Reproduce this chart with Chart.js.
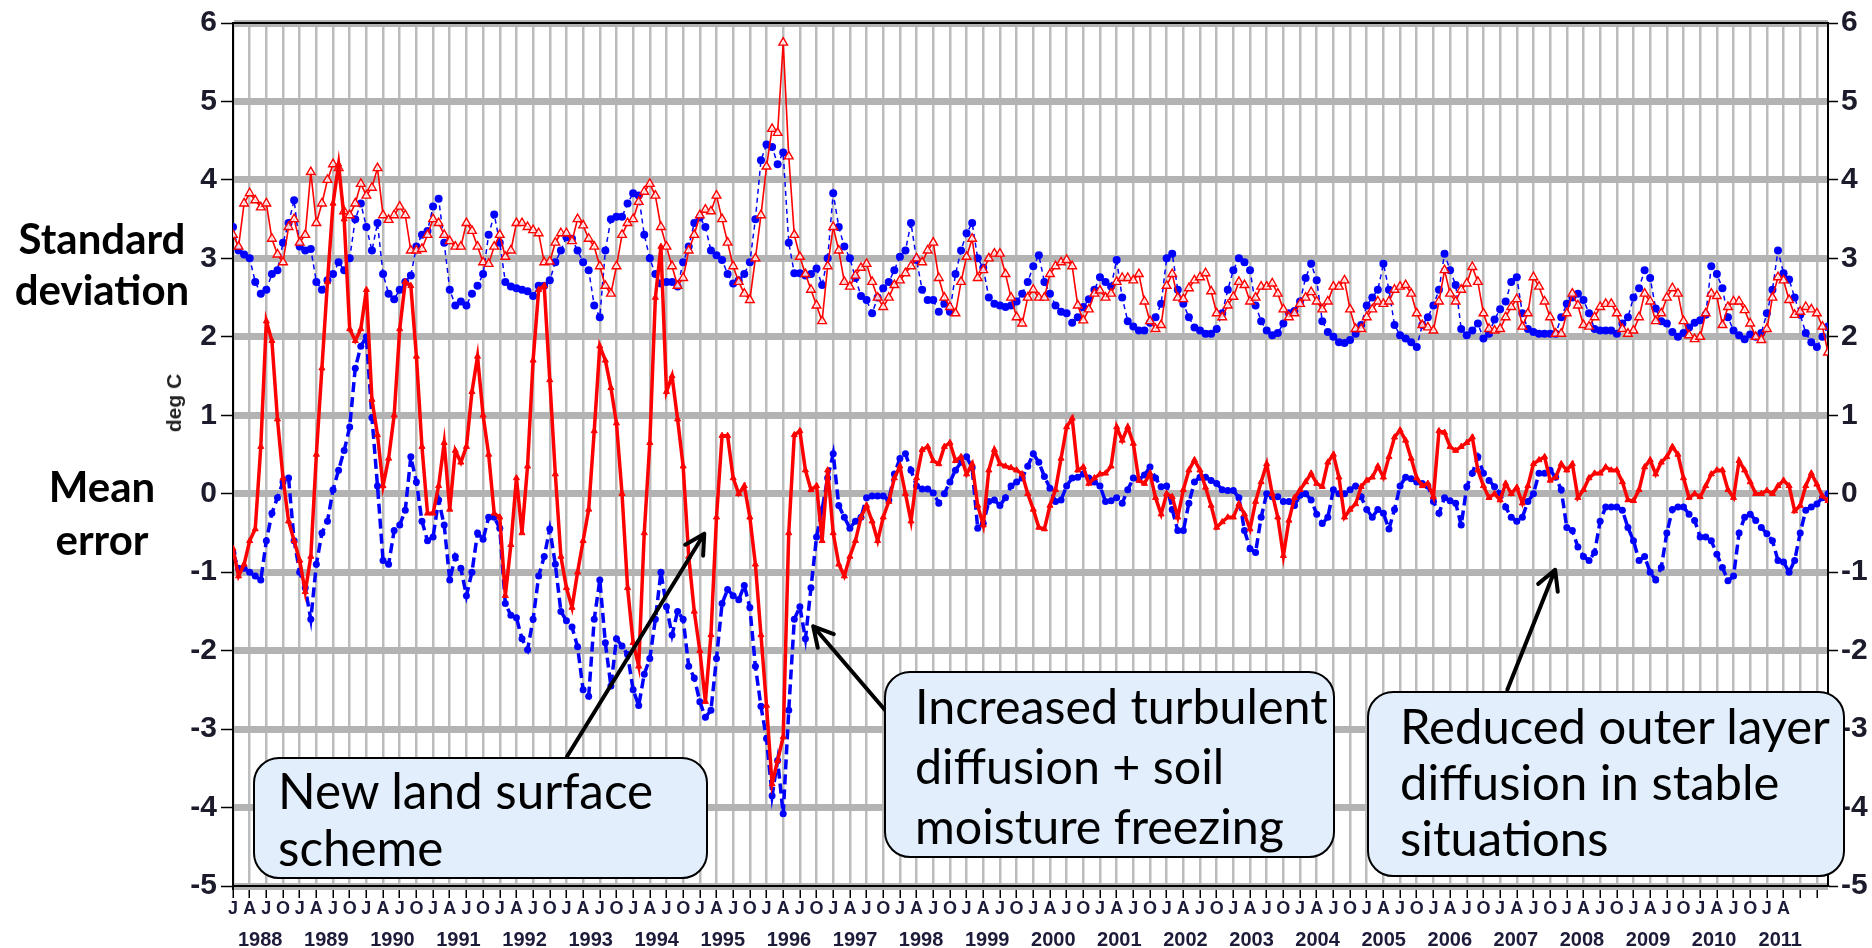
<!DOCTYPE html>
<html>
<head>
<meta charset="utf-8">
<script src="https://cdn.jsdelivr.net/npm/chart.js@4.4.1/dist/chart.umd.min.js"></script>
<style>
  html, body { margin: 0; padding: 0; background: #fff; }
  #wrap { position: relative; width: 1872px; height: 948px; overflow: hidden; }
  #chart { position: absolute; left: 0; top: 0; }
  .side { position: absolute; left: 0; width: 204px; text-align: center; font-family: Lato, sans-serif; font-weight: 700; color: #000; }
  .unit { position: absolute; left: 174px; top: 403px; transform: translate(-50%, -50%) rotate(-90deg);
          font-family: 'Liberation Sans', Arial, sans-serif; font-weight: 700; font-size: 21px; color: #222; white-space: nowrap; }
  .note { position: absolute; box-sizing: border-box; background: #e2eefb; border: 2px solid #000; border-radius: 26px;
          font-family: Lato, sans-serif; color: #000; white-space: nowrap; }
</style>
</head>
<body>
<div id="wrap">
  <canvas id="chart" width="1872" height="948"></canvas>
  <div class="side" style="top:213px; line-height:51px;" data-fit="167">Standard<br>deviation</div>
  <div class="side" style="top:460px; line-height:53px;">Mean<br>error</div>
  <div class="unit">deg C</div>
  <div class="note" style="left:253px; top:757px; width:455px; height:122px; padding:3px 0 0 23px; line-height:57px;" data-fit="376">New land surface<br>scheme</div>
  <div class="note" style="left:884px; top:671px; width:451px; height:187px; padding:2px 0 0 29px; line-height:60px;" data-fit="413">Increased turbulent<br>diffusion + soil<br>moisture freezing</div>
  <div class="note" style="left:1367px; top:691px; width:478px; height:186px; padding:4px 0 0 31px; line-height:56px;" data-fit="431">Reduced outer layer<br>diffusion in stable<br>situations</div>
</div>
<script>
// x axis runs month by month, Jan 1988 .. Dec 2011
var years = [1988, 1989, 1990, 1991, 1992, 1993, 1994, 1995, 1996, 1997, 1998, 1999,
             2000, 2001, 2002, 2003, 2004, 2005, 2006, 2007, 2008, 2009, 2010, 2011];
var tickLetters = ['J', 'A', 'J', 'O'];
var lastLabelledMonth = 279; // Apr 2011 is the last lettered tick
// the year row is evenly spread between these two months in the original
var firstYearLabelAt = 4.9, lastYearLabelAt = 278.4;

// standard deviation, blue (dots, dashed)
var sdBlue = [
  3.4, 3.1, 3.05, 3.0, 2.7, 2.55, 2.6, 2.8, 2.85, 3.2, 3.45, 3.74,
  3.15, 3.1, 3.12, 2.7, 2.6, 2.72, 2.8, 2.95, 2.85, 3.0, 3.5, 3.7,
  3.4, 3.1, 3.45, 2.8, 2.55, 2.48, 2.6, 2.7, 2.78, 3.15, 3.3, 3.35,
  3.66, 3.76, 3.2, 2.6, 2.4, 2.45, 2.4, 2.55, 2.65, 2.8, 3.3, 3.56,
  3.2, 2.7, 2.64, 2.62, 2.6, 2.58, 2.52, 2.65, 2.65, 2.72, 2.95, 3.1,
  3.27, 3.25, 3.1, 2.95, 2.85, 2.4, 2.25, 3.1, 3.5, 3.53, 3.53, 3.7,
  3.83, 3.8, 3.3, 3.0, 2.8, 2.68, 2.7, 2.7, 2.64, 2.95, 3.15, 3.45,
  3.52, 3.4, 3.1, 3.04, 2.98, 2.8, 2.68, 2.72, 2.8, 2.95, 3.5, 4.25,
  4.45, 4.42, 4.2, 4.35, 3.2, 2.81, 2.81, 2.78, 2.8, 2.87, 2.66, 3.0,
  3.83, 3.4, 3.15, 3.0, 2.75, 2.52, 2.47, 2.3, 2.5, 2.62, 2.7, 2.85,
  3.02, 3.1, 3.45, 2.98, 2.6, 2.47, 2.47, 2.32, 2.42, 2.32, 2.8, 3.1,
  3.32, 3.45, 3.0, 2.88, 2.5, 2.42, 2.4, 2.38, 2.4, 2.45, 2.55, 2.7,
  2.9, 3.04, 2.7, 2.55, 2.4, 2.32, 2.3, 2.18, 2.25, 2.38, 2.48, 2.6,
  2.76, 2.7, 2.64, 2.98, 2.5, 2.2, 2.13, 2.08, 2.08, 2.18, 2.25, 2.42,
  3.0, 3.06, 2.6, 2.42, 2.25, 2.12, 2.08, 2.04, 2.04, 2.1, 2.3, 2.6,
  2.85, 3.0, 2.95, 2.85, 2.4, 2.2, 2.08, 2.02, 2.05, 2.17, 2.3, 2.33,
  2.45, 2.75, 2.93, 2.72, 2.2, 2.06, 2.0, 1.93, 1.92, 1.96, 2.04, 2.15,
  2.4, 2.5, 2.6, 2.93, 2.6, 2.15, 2.02, 1.98, 1.93, 1.87, 2.15, 2.25,
  2.4, 2.6, 3.06, 2.85, 2.66, 2.1, 2.02, 2.08, 2.17, 1.98, 2.04, 2.22,
  2.35, 2.45, 2.7, 2.76, 2.3, 2.1, 2.06, 2.04, 2.04, 2.04, 2.04, 2.25,
  2.42, 2.5, 2.55, 2.47, 2.3, 2.1, 2.08, 2.08, 2.08, 2.04, 2.17, 2.25,
  2.5, 2.62, 2.85, 2.75, 2.36, 2.2, 2.17, 2.06, 2.0, 2.05, 2.12, 2.18,
  2.21, 2.28, 2.9, 2.8, 2.62, 2.25, 2.08, 2.02, 1.97, 2.03, 2.0, 2.05,
  2.3, 2.6, 3.1, 2.81, 2.73, 2.5, 2.28, 2.05, 1.93, 1.87, 2.0, 2.13
];

// standard deviation, red (open triangles, thin line)
var sdRed = [
  3.3, 3.15, 3.7, 3.83, 3.74, 3.65, 3.7, 3.25, 3.05, 2.95, 3.4, 3.5,
  3.2, 3.3, 4.1, 3.45, 3.7, 4.0, 4.2, 4.15, 3.6, 3.55, 3.7, 3.95,
  3.8, 3.9, 4.15, 3.55, 3.49, 3.55, 3.66, 3.55, 3.1, 3.1, 3.12, 3.3,
  3.5, 3.45, 3.3, 3.22, 3.15, 3.15, 3.45, 3.35, 3.15, 2.95, 2.93, 3.15,
  3.3, 3.02, 3.1, 3.45, 3.45, 3.4, 3.36, 3.32, 2.95, 2.96, 3.2, 3.32,
  3.32, 3.22, 3.5, 3.42, 3.25, 3.15, 2.9, 2.65, 2.55, 2.9, 3.3, 3.45,
  3.5, 3.72, 3.85, 3.95, 3.8, 3.4, 3.15, 2.9, 2.65, 2.75, 3.1, 3.3,
  3.55, 3.62, 3.6, 3.8, 3.5, 3.2, 2.9, 2.7, 2.55, 2.47, 3.0, 3.55,
  4.17, 4.65, 4.6, 5.75, 4.3, 3.3, 3.02, 2.8, 2.6, 2.4, 2.2, 2.9,
  3.4, 3.1, 2.7, 2.64, 2.78, 2.88, 2.93, 2.7, 2.5, 2.38, 2.5, 2.66,
  2.72, 2.81, 2.9, 3.0, 2.95, 3.1, 3.2, 2.75, 2.5, 2.38, 2.3, 2.7,
  3.02, 3.25, 2.75, 2.85, 3.0, 3.06, 3.06, 2.8, 2.5, 2.25, 2.17, 2.5,
  2.6, 2.5, 2.5, 2.8, 2.9, 2.95, 2.98, 2.9, 2.4, 2.21, 2.35, 2.55,
  2.59, 2.5, 2.55, 2.7, 2.75, 2.75, 2.72, 2.8, 2.45, 2.2, 2.1, 2.15,
  2.65, 2.8, 2.5, 2.48, 2.62, 2.72, 2.76, 2.81, 2.58, 2.3, 2.25, 2.4,
  2.51, 2.7, 2.66, 2.45, 2.5, 2.64, 2.64, 2.68, 2.55, 2.35, 2.25, 2.3,
  2.42, 2.5, 2.57, 2.45, 2.35, 2.45, 2.64, 2.64, 2.72, 2.35, 2.1, 2.1,
  2.25, 2.35, 2.45, 2.42, 2.45, 2.6, 2.64, 2.66, 2.55, 2.3, 2.15, 2.12,
  2.08, 2.45, 2.85, 2.55, 2.45, 2.6, 2.68, 2.89, 2.7, 2.3, 2.1, 2.08,
  2.1, 2.25, 2.38, 2.48, 2.13, 2.3, 2.76, 2.64, 2.45, 2.25, 2.04, 2.04,
  2.3, 2.55, 2.4, 2.15, 2.13, 2.25, 2.38, 2.42, 2.42, 2.3, 2.1, 2.04,
  2.08, 2.25, 2.55, 2.45, 2.2, 2.3, 2.5, 2.62, 2.55, 2.2, 2.02, 1.97,
  2.0, 2.3, 2.55, 2.52, 2.15, 2.38, 2.45, 2.45, 2.34, 2.17, 2.0, 1.96,
  2.1, 2.5, 2.76, 2.72, 2.47, 2.28, 2.32, 2.38, 2.35, 2.3, 2.13, 1.8
];

// mean error, blue (dots, thick dashed)
var meBlue = [
  -0.76, -0.95, -0.95, -1.0, -1.05, -1.1, -0.6, -0.25, -0.05, 0.15, 0.2, -0.6,
  -1.0, -1.2, -1.6, -0.9, -0.5, -0.35, 0.05, 0.3, 0.55, 0.85, 1.6, 1.88,
  2.0, 0.97, 0.1, -0.85, -0.9, -0.47, -0.4, -0.21, 0.47, 0.15, -0.35, -0.6,
  -0.55, -0.08, -0.4, -1.1, -0.8, -0.95, -1.3, -1.0, -0.5, -0.58, -0.3, -0.3,
  -0.44, -1.4, -1.55, -1.58, -1.85, -1.99, -1.6, -1.05, -0.8, -0.45, -0.9, -1.5,
  -1.62, -1.7, -1.95, -2.5, -2.58, -1.6, -1.1, -1.9, -2.45, -1.85, -1.94, -2.05,
  -2.5, -2.7, -2.3, -2.1, -1.6, -1.0, -1.44, -1.8, -1.5, -1.6, -2.2, -2.35,
  -2.65, -2.85, -2.76, -2.1, -1.4, -1.22, -1.3, -1.35, -1.17, -1.45, -2.2, -2.71,
  -3.12, -3.85, -3.4, -4.08, -2.76, -1.6, -1.44, -1.85, -1.2, -0.55, -0.2, 0.2,
  0.51, -0.15, -0.3, -0.44, -0.35, -0.3, -0.05, -0.03, -0.03, -0.03, -0.08, 0.25,
  0.45, 0.51, 0.3, 0.1, 0.06, 0.06, 0.01, -0.12, 0.0, 0.15, 0.3, 0.4,
  0.47, 0.33, -0.44, -0.38, -0.1, -0.08, -0.15, -0.05, 0.1, 0.15, 0.2, 0.35,
  0.51, 0.4, 0.22, 0.07, -0.1, -0.08, 0.1, 0.2, 0.21, 0.25, 0.2, 0.15,
  0.1, -0.1, -0.09, -0.05, -0.12, 0.05, 0.2, 0.18, 0.24, 0.34, 0.2, 0.09,
  0.1, -0.2, -0.47, -0.47, -0.12, 0.15, 0.21, 0.21, 0.17, 0.13, 0.05, 0.04,
  0.04, -0.05, -0.47, -0.7, -0.75, -0.3, 0.0, -0.04, -0.04, -0.1, -0.1, -0.15,
  -0.02, 0.0, -0.08, -0.26, -0.38, -0.3, 0.05, 0.0, 0.0, 0.05, 0.1, -0.04,
  -0.2, -0.3, -0.2, -0.25, -0.45, -0.2, 0.1, 0.21, 0.19, 0.15, 0.13, 0.1,
  -0.1, -0.25, -0.05, -0.09, -0.12, -0.4, 0.09, 0.26, 0.47, 0.26, 0.17, 0.09,
  0.0, -0.17, -0.3, -0.35, -0.3, -0.1, 0.0, 0.26, 0.26, 0.3, 0.21, 0.05,
  -0.43, -0.47, -0.68, -0.8, -0.85, -0.75, -0.35, -0.17, -0.17, -0.17, -0.21, -0.43,
  -0.6, -0.85, -0.8, -1.0, -1.1, -0.94, -0.5, -0.2, -0.17, -0.17, -0.26, -0.34,
  -0.55, -0.55, -0.6, -0.77, -0.94, -1.11, -1.05, -0.5, -0.3, -0.26, -0.34, -0.43,
  -0.51, -0.6, -0.85, -0.87, -1.0, -0.85, -0.5, -0.21, -0.17, -0.13, -0.05, 0.0
];

// mean error, red (small triangles, thick line)
var meRed = [
  -0.7, -1.05, -0.9, -0.6, -0.45, 0.6, 2.2, 1.95, 0.95, 0.2, -0.35, -0.6,
  -0.85, -1.25, -0.8, 0.5, 1.6, 2.7, 3.7, 4.2, 3.5, 2.1, 1.95, 2.1,
  2.6, 1.2, 0.75, 0.1, 0.45, 1.0, 2.1, 2.7, 2.65, 1.75, 0.6, -0.25,
  -0.25, 0.1, 0.65, -0.2, 0.55, 0.4, 0.6, 1.3, 1.75, 1.0, 0.5, -0.25,
  -0.3, -1.3, -0.65, 0.2, -0.5, 0.35, 1.7, 2.6, 2.65, 1.45, 0.25, -0.8,
  -1.2, -1.45, -1.0, -0.6, -0.2, 0.8, 1.88, 1.7, 1.35, 0.9, 0.0, -1.2,
  -1.9, -2.2, -0.5, 0.65, 2.5, 3.15, 1.3, 1.5, 0.95, 0.35, -0.8, -1.5,
  -2.0, -2.65, -1.8, -0.3, 0.74, 0.74, 0.2, 0.0, 0.1, -0.3, -0.9, -1.8,
  -2.7, -3.7, -3.4, -3.1, -0.5, 0.75, 0.8, 0.3, 0.05, 0.1, -0.6, 0.3,
  -0.5, -0.9, -1.05, -0.8, -0.6, -0.3, -0.15, -0.35, -0.6, -0.3, -0.1, 0.2,
  0.35, 0.0, -0.35, 0.2, 0.56, 0.6, 0.42, 0.38, 0.6, 0.65, 0.42, 0.47,
  0.25, 0.38, -0.15, -0.4, 0.3, 0.56, 0.38, 0.35, 0.33, 0.3, 0.25, 0.0,
  -0.2, -0.43, -0.45, -0.15, 0.05, 0.45, 0.85, 0.96, 0.3, 0.34, 0.13, 0.2,
  0.25, 0.26, 0.35, 0.85, 0.68, 0.85, 0.64, 0.17, 0.13, 0.26, -0.05, -0.26,
  0.0, -0.04, -0.3, 0.05, 0.3, 0.43, 0.3, 0.08, -0.15, -0.43, -0.36, -0.3,
  -0.3, -0.13, -0.26, -0.45, -0.1, 0.15, 0.38, 0.0, -0.3, -0.79, -0.34, -0.05,
  0.05, 0.15, 0.26, 0.13, 0.09, 0.4, 0.5, 0.21, -0.3, -0.2, -0.13, 0.09,
  0.17, 0.21, 0.35, 0.21, 0.47, 0.72, 0.81, 0.68, 0.45, 0.2, 0.1, 0.13,
  -0.04, 0.8, 0.78, 0.6, 0.55, 0.6, 0.65, 0.72, 0.3, 0.1, -0.05, 0.0,
  -0.08, 0.13, 0.0, 0.08, -0.12, 0.1, 0.38, 0.43, 0.47, 0.17, 0.21, 0.38,
  0.3, 0.38, -0.05, 0.05, 0.2, 0.26, 0.26, 0.34, 0.3, 0.3, 0.15, -0.08,
  -0.09, 0.05, 0.34, 0.43, 0.25, 0.4, 0.47, 0.6, 0.5, 0.2, -0.05, 0.0,
  -0.04, 0.1, 0.25, 0.3, 0.3, 0.05, -0.05, 0.42, 0.3, 0.15, 0.0, 0.0,
  0.04, 0.0, 0.1, 0.17, 0.1, -0.22, -0.15, 0.1, 0.26, 0.12, -0.03, -0.09
];

// callout arrows, [month, deg C] of tail and tip
var arrowFrom = [[60.1, -3.35], [118.2, -2.83], [229.3, -2.5]];
var arrowTo = [[84.8, -0.51], [104.4, -1.69], [237.9, -0.97]];

// fit the overlay fonts to the widths in the original slide
var measure = document.createElement('canvas').getContext('2d');
document.querySelectorAll('[data-fit]').forEach(function(el) {
  var first = el.innerHTML.split('<br>')[0];
  var weight = el.classList.contains('side') ? '700' : '400';
  measure.font = weight + ' 100px Lato';
  var size = 100 * Number(el.dataset.fit) / measure.measureText(first).width;
  el.style.fontSize = size.toFixed(1) + 'px';
  if (el.classList.contains('side')) {
    document.querySelectorAll('.side').forEach(function(s) { s.style.fontSize = size.toFixed(1) + 'px'; });
  }
});

function toPoints(values) {
  return values.map(function(v, i) { return {x: i, y: v}; });
}

var quarterTicks = [];
years.forEach(function(y, k) {
  for (var q = 0; q < 4; q++) quarterTicks.push(k * 12 + q * 3);
});
var yearCentres = years.map(function(y, k) {
  return firstYearLabelAt + k * (lastYearLabelAt - firstYearLabelAt) / (years.length - 1);
});

var lastMonth = sdBlue.length - 1;
var tickFont = {size: 30, weight: 'bold'};

function drawArrow(ctx, x1, y1, x2, y2) {
  var ang = Math.atan2(y2 - y1, x2 - x1);
  var len = 22, spread = 0.5;
  ctx.beginPath();
  ctx.moveTo(x1, y1);
  ctx.lineTo(x2, y2);
  ctx.moveTo(x2 - len * Math.cos(ang - spread), y2 - len * Math.sin(ang - spread));
  ctx.lineTo(x2, y2);
  ctx.lineTo(x2 - len * Math.cos(ang + spread), y2 - len * Math.sin(ang + spread));
  ctx.stroke();
}

var frameAndArrows = {
  id: 'frameAndArrows',
  beforeDatasetsDraw: function(chart) {
    var ctx = chart.ctx, a = chart.chartArea;
    ctx.save();
    ctx.strokeStyle = '#000';
    ctx.lineWidth = 2;
    ctx.strokeRect(a.left, a.top, a.right - a.left, a.bottom - a.top);
    ctx.restore();
  },
  afterDraw: function(chart) {
    var ctx = chart.ctx, sx = chart.scales.x, sy = chart.scales.y;
    ctx.save();
    ctx.strokeStyle = '#000';
    ctx.lineWidth = 4;
    ctx.lineCap = 'round';
    ctx.lineJoin = 'round';
    arrowFrom.forEach(function(f, i) {
      var t = arrowTo[i];
      drawArrow(ctx, sx.getPixelForValue(f[0]), sy.getPixelForValue(f[1]),
                sx.getPixelForValue(t[0]), sy.getPixelForValue(t[1]));
    });
    ctx.restore();
  }
};

Chart.defaults.font.family = "'Liberation Sans', Arial, sans-serif";

new Chart(document.getElementById('chart'), {
  type: 'line',
  data: {
    datasets: [
      {
        label: 'Mean error (red)', data: toPoints(meRed), order: 1,
        borderColor: '#ff0000', borderWidth: 3.5,
        pointStyle: 'triangle', pointRadius: 3.5, pointBorderWidth: 1,
        pointBackgroundColor: '#ff0000', pointBorderColor: '#ff0000'
      },
      {
        label: 'Standard deviation (red)', data: toPoints(sdRed), order: 2,
        borderColor: '#ff0000', borderWidth: 1.6,
        pointStyle: 'triangle', pointRadius: 5, pointBorderWidth: 1.4,
        pointBackgroundColor: 'rgba(255,255,255,0.8)', pointBorderColor: '#ff0000'
      },
      {
        label: 'Mean error (blue)', data: toPoints(meBlue), order: 3,
        borderColor: '#0000ff', borderWidth: 3.5, borderDash: [10, 5],
        pointStyle: 'circle', pointRadius: 3.5, pointBorderWidth: 0,
        pointBackgroundColor: '#0000ff'
      },
      {
        label: 'Standard deviation (blue)', data: toPoints(sdBlue), order: 4,
        borderColor: '#0000ff', borderWidth: 1.5, borderDash: [5, 4],
        pointStyle: 'circle', pointRadius: 4, pointBorderWidth: 0,
        pointBackgroundColor: '#0000ff'
      }
    ]
  },
  options: {
    responsive: false,
    animation: false,
    events: [],
    layout: {padding: {top: 23, left: 0, right: 0, bottom: 0}},
    plugins: {legend: {display: false}, tooltip: {enabled: false}},
    elements: {line: {tension: 0}},
    scales: {
      x: {
        type: 'linear', position: 'bottom', weight: 0, min: 0, max: lastMonth,
        afterBuildTicks: function(axis) { axis.ticks = quarterTicks.map(function(v) { return {value: v}; }); },
        afterFit: function(s) { s.height = 33; },
        ticks: {
          autoSkip: false, maxRotation: 0, padding: 0, color: '#1c1c3a', font: {size: 18, weight: 'bold'},
          callback: function(value) { return value > lastLabelledMonth ? '' : tickLetters[(value % 12) / 3]; }
        },
        grid: {color: '#bcbcbc', lineWidth: 2.5, tickColor: '#000', tickWidth: 1.5, tickLength: 12},
        border: {color: '#000', width: 2}
      },
      xYear: {
        type: 'linear', position: 'bottom', weight: 1, min: 0, max: lastMonth,
        afterBuildTicks: function(axis) { axis.ticks = yearCentres.map(function(v) { return {value: v}; }); },
        afterFit: function(s) { s.height = 29; },
        ticks: {
          autoSkip: false, maxRotation: 0, padding: 1, color: '#1c1c3a', font: {size: 20, weight: 'bold'},
          callback: function(value, index) { return String(years[index]); }
        },
        grid: {display: false},
        border: {display: false}
      },
      y: {
        position: 'left', min: -5, max: 6,
        afterFit: function(s) { s.width = 233; },
        ticks: {stepSize: 1, padding: 4, color: '#1b1b2b', font: tickFont},
        grid: {color: '#b3b3b3', lineWidth: 7, tickColor: '#000', tickWidth: 1.5, tickLength: 12},
        border: {color: '#000', width: 2}
      },
      y2: {
        position: 'right', min: -5, max: 6,
        afterFit: function(s) { s.width = 44; },
        ticks: {stepSize: 1, padding: 3, color: '#1b1b2b', font: tickFont},
        grid: {drawOnChartArea: false, tickColor: '#000', tickWidth: 1.5, tickLength: 10},
        border: {color: '#000', width: 2}
      }
    }
  },
  plugins: [frameAndArrows]
});
</script>
</body>
</html>
